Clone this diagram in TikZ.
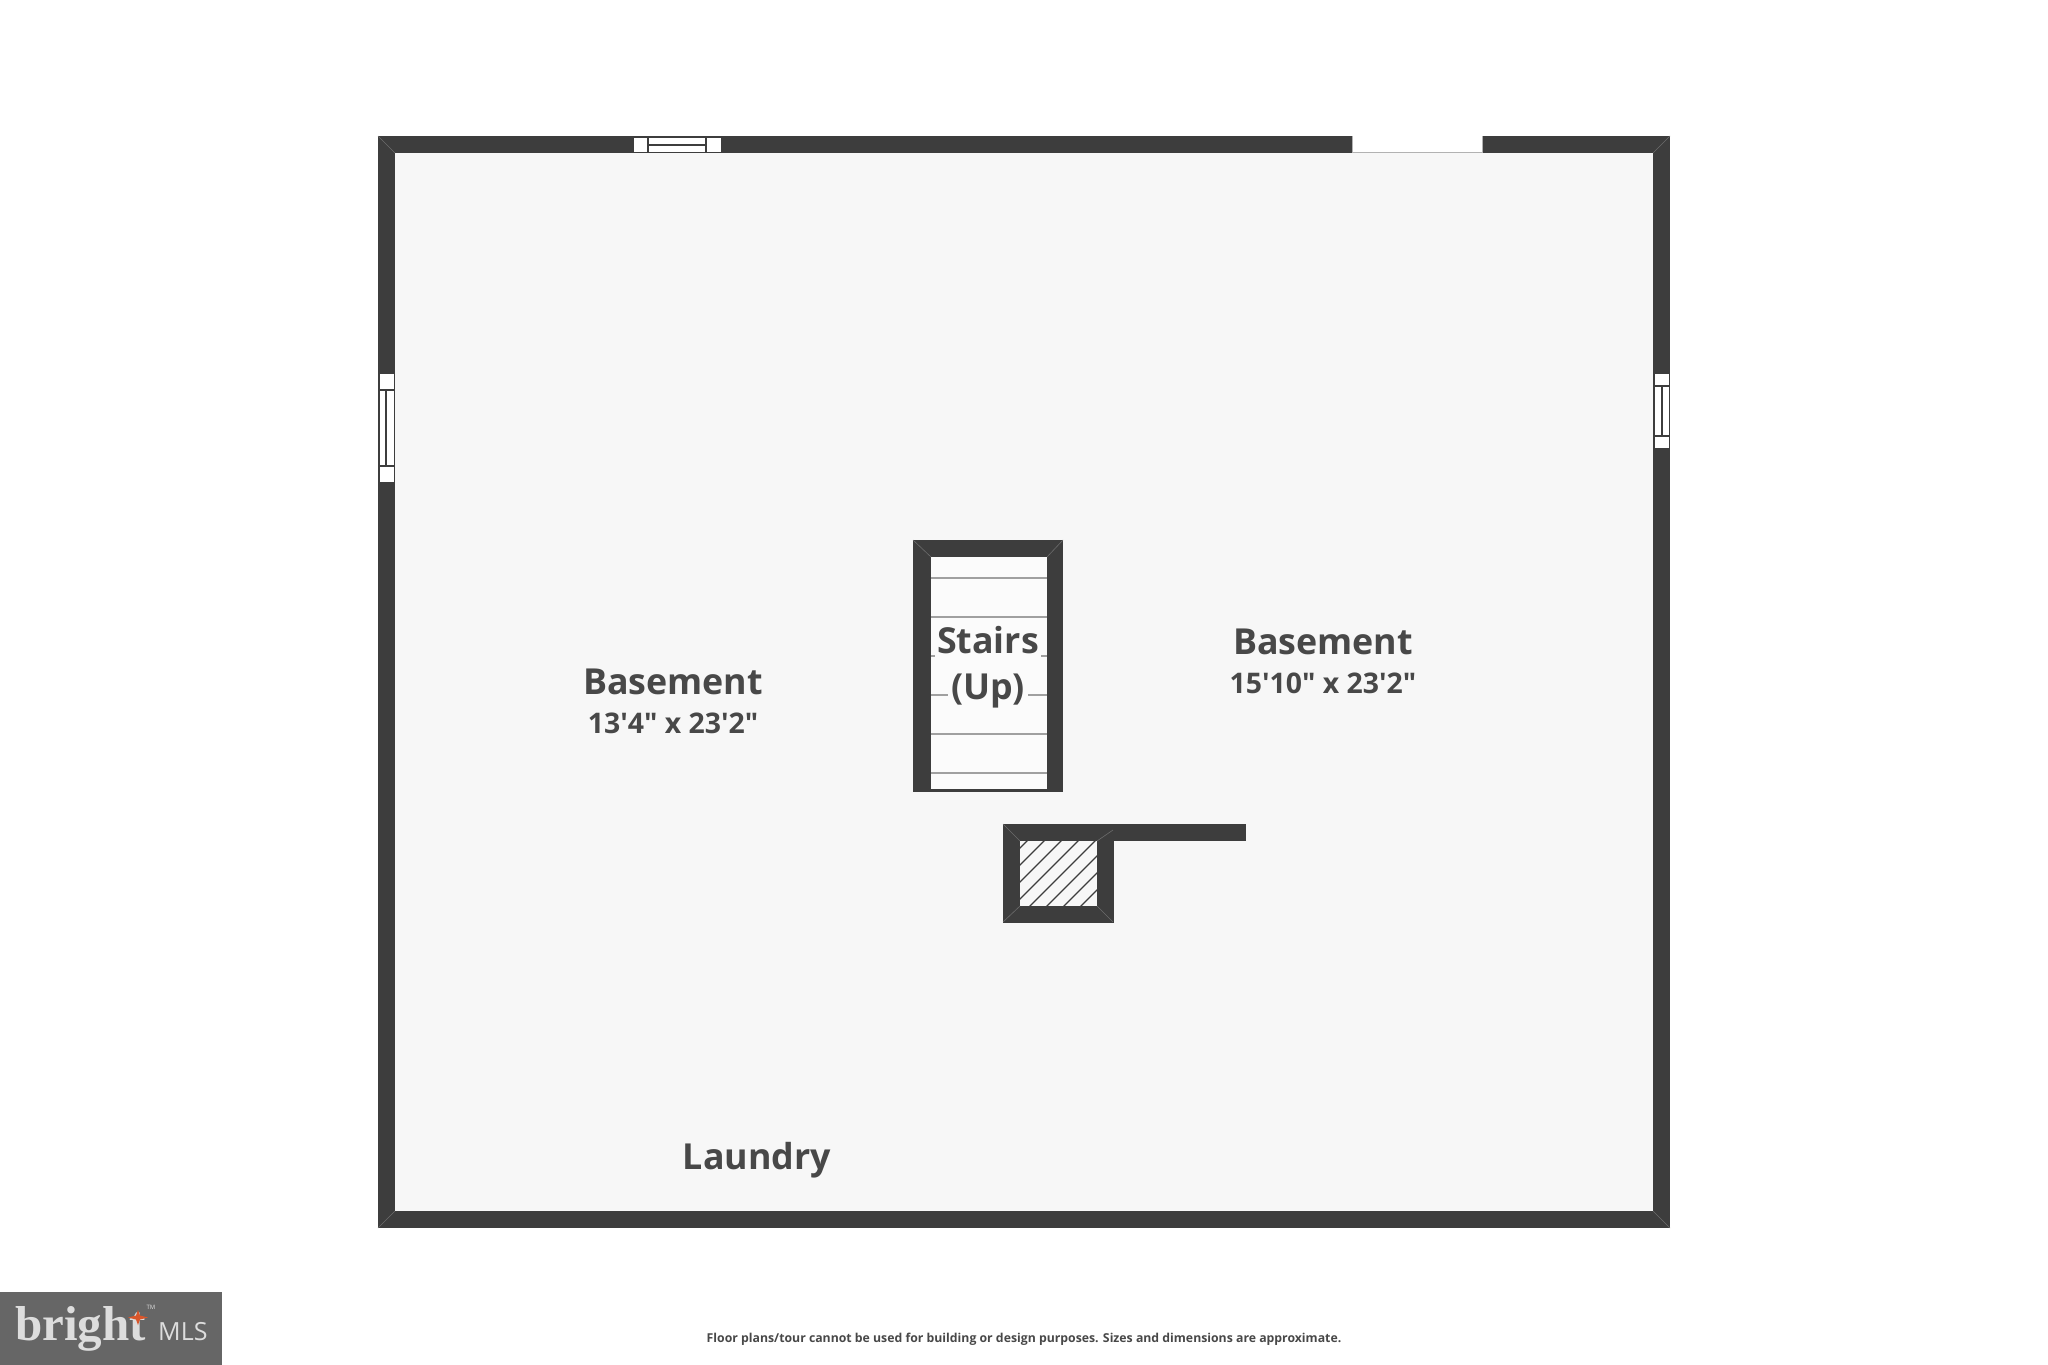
\documentclass[tikz,border=0pt]{standalone}
\usepackage{fontspec}
\setmainfont{Open Sans}
\newfontfamily\sizefont{Open Sans}
\newfontfamily\brightfont{Liberation Serif}
\definecolor{wallgray}{HTML}{3D3D3D}
\definecolor{floorgray}{HTML}{F7F7F7}
\definecolor{labelgray}{HTML}{484848}
\definecolor{treadgray}{HTML}{A0A0A0}
\definecolor{logogray}{HTML}{666666}
\definecolor{logolight}{HTML}{DDDDDD}
\definecolor{logostar}{HTML}{D9562B}
\tikzset{
	wall/.style={fill=wallgray,draw=none},
	seam/.style={draw=gray!70!wallgray,line width=0.6pt},
	glass/.style={draw=wallgray,fill=white,line width=1.5pt},
	tread/.style={draw=treadgray,line width=1.4pt},
	roomname/.style={text=labelgray,font=\fontsize{35.8}{36}\selectfont\bfseries,inner sep=0pt},
	roomsize/.style={text=labelgray,font=\sizefont\fontsize{28.4}{29}\selectfont\bfseries,inner sep=0pt},
}
\begin{document}
\begin{tikzpicture}[x=1pt,y=-1pt]
	\useasboundingbox (0,0) rectangle (2048,1365);
	\fill[white] (0,0) rectangle (2048,1365);
	% outer walls
	\fill[wall] (378,136) rectangle (1670,1228);
	\fill[floorgray] (395,153) rectangle (1653,1211);
	\draw[seam] (378,136) -- (395,153);
	\draw[seam] (1670,136) -- (1653,153);
	\draw[seam] (378,1228) -- (395,1211);
	\draw[seam] (1670,1228) -- (1653,1211);
	% top windows
	\draw[glass] (633,136.75) rectangle (722,152.25);
	\draw[glass] (648,136.75) rectangle (706,152.25);
	\draw[glass] (648,145) -- (706,145);
	\fill[white] (1352,136) rectangle (1483,153);
	\draw[draw=gray!60,line width=1.5pt] (1352.5,136) -- (1352.5,152.5) -- (1482.5,152.5) -- (1482.5,136);
	% left window
	\draw[glass] (378.75,373) rectangle (394.25,483);
	\draw[glass] (378.75,390) rectangle (394.25,466);
	\draw[glass] (386,390) -- (386,466);
	% right window
	\draw[glass] (1653.75,373) rectangle (1669.25,449);
	\draw[glass] (1653.75,386) rectangle (1669.25,436);
	\draw[glass] (1662,386) -- (1662,436);
	% stairs
	\fill[wall] (913,540) rectangle (1063,792);
	\fill[floorgray!50!white] (931,557) rectangle (1047,789);
	\draw[seam] (913,540) -- (931,557);
	\draw[seam] (1063,540) -- (1047,557);
	\foreach \y in {578,617,656,695,734,773}
		\draw[tread] (931,\y) -- (1047,\y);
	\node[roomname,fill=floorgray!50!white,inner xsep=2pt,inner ysep=4pt] (stairs) at (988,640) {Stairs};
	\node[roomname,fill=floorgray!50!white,inner xsep=3pt] (up) at (988,691) {(Up)};
	% chimney and wall stub
	\fill[wall] (1003,824) rectangle (1246,841);
	\fill[wall] (1003,824) rectangle (1113.5,922.5);
	\fill[floorgray] (1020,841) rectangle (1097,906);
	\begin{scope}
		\clip (1020,841) rectangle (1097,906);
		\foreach \s in {1868,1885,...,1987}
			\draw[wallgray,line width=1.1pt] (1000,\s-1000) -- (1120,\s-1120);
	\end{scope}
	\draw[seam] (1003,824) -- (1020,841);
	\draw[seam] (1113,922) -- (1097,906);
	\draw[seam] (1003,922) -- (1020,906);
	\draw[seam] (1113,830) -- (1097,841);
	% labels
	\node[roomname] (left name) at (673,682) {Basement};
	\node[roomsize] (left size) at (673,723) {13'4" x 23'2"};
	\node[roomname] (right name) at (1323,642) {Basement};
	\node[roomsize] (right size) at (1323,683) {15'10" x 23'2"};
	\node[roomname] (laundry) at (757,1160) {Laundry};
	\node[text=labelgray,font=\fontsize{12.27}{13}\selectfont\bfseries,inner sep=0pt] (notice) at (1024,1339) {Floor plans/tour cannot be used for building or design purposes. Sizes and dimensions are approximate.};
	% logo
	\fill[logogray] (0,1292) rectangle (222,1365);
	\node[text=logolight,font=\brightfont\fontsize{49}{49}\selectfont\bfseries,anchor=base west,inner sep=0pt] (bright) at (15,1340) {bright};
	\node[text=logolight,font=\fontsize{25}{25}\selectfont,anchor=base west,inner sep=0pt] (mls) at (158,1340) {MLS};
	\node[text=logolight,font=\fontsize{6}{6}\selectfont,inner sep=0pt] (tm) at (151,1307) {TM};
	\fill[logostar] (138,1310) -- (140,1315.5) -- (148,1317.5) -- (140,1319.5) -- (138,1325) -- (136,1319.5) -- (128,1317.5) -- (136,1315.5) -- cycle;
\end{tikzpicture}
\end{document}
